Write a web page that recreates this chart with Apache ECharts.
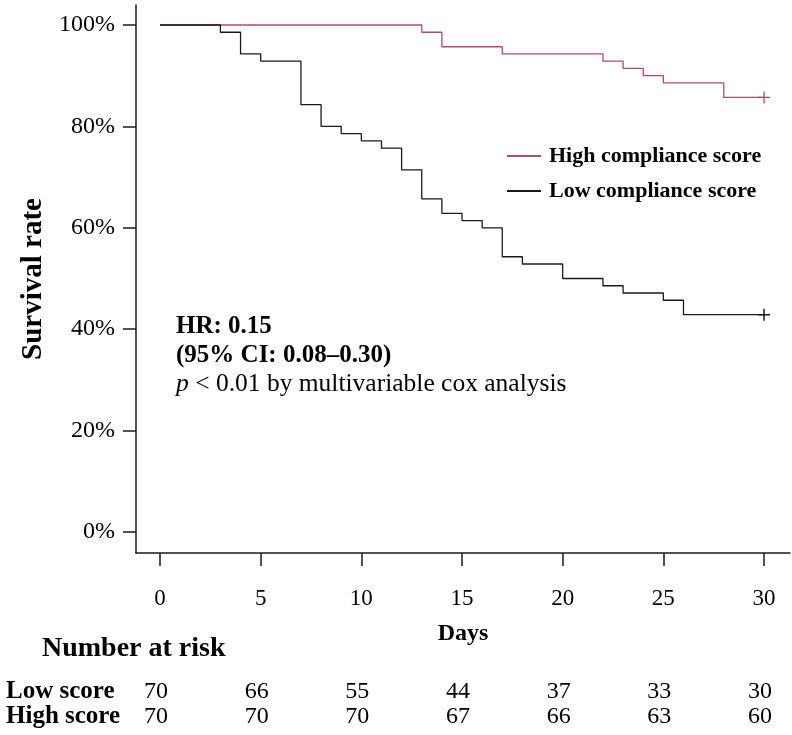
<!DOCTYPE html>
<html>
<head>
<meta charset="utf-8">
<script src="https://cdn.jsdelivr.net/npm/echarts@6/dist/echarts.min.js"></script>
<style>
  html, body { margin: 0; background: #fff; }
  #chart { width: 792px; height: 735px; }
</style>
</head>
<body>
<div id="chart"></div>
<script>
// survival curves (days, survival %)
var highDays = [0, 13, 14, 17, 22, 23, 24, 25, 28, 30];
var highSurv = [100, 98.57, 95.71, 94.29, 92.86, 91.43, 90, 88.57, 85.71, 85.71];
var lowDays = [0, 3, 4, 5, 7, 8, 9, 10, 11, 12, 13, 14, 15, 16, 17, 18, 20, 22, 23, 25, 26, 30];
var lowSurv = [100, 98.57, 94.29, 92.86, 84.29, 80, 78.57, 77.14, 75.71, 71.43, 65.71, 62.86, 61.43, 60,
               54.29, 52.86, 50, 48.57, 47.14, 45.71, 42.86, 42.86];

// axis ticks
var xTicks = [0, 5, 10, 15, 20, 25, 30];
var yTicks = [0, 20, 40, 60, 80, 100];

// number at risk
var riskRows = ['Low score', 'High score'];
var riskLow = [70, 66, 55, 44, 37, 33, 30];
var riskHigh = [70, 70, 70, 67, 66, 63, 60];

var serif = 'Liberation Serif';
var pink = '#b54a6c';
var black = '#1a1a1a';

function zip(xs, ys) {
  return xs.map(function (x, i) { return [x, ys[i]]; });
}

var riskData = [];
xTicks.forEach(function (t, i) {
  riskData.push([t, riskRows[0], riskLow[i]]);
  riskData.push([t, riskRows[1], riskHigh[i]]);
});

var plus = 'path://M6,0L6,12M0,6L12,6';

var chart = echarts.init(document.getElementById('chart'));

chart.setOption({
  animation: false,
  title: {
    text: 'Number at risk',
    left: 42, top: 635, padding: 0,
    textStyle: { fontFamily: serif, fontWeight: 'bold', fontSize: 28, color: '#000' }
  },
  legend: {
    data: ['High compliance score', 'Low compliance score'],
    orient: 'vertical',
    left: 502, top: 140,
    icon: 'rect',
    itemWidth: 34, itemHeight: 2,
    itemGap: 13,
    textStyle: { fontFamily: serif, fontWeight: 'bold', fontSize: 22, color: '#000', padding: [0, 0, 0, 3] }
  },
  graphic: [{
    type: 'text',
    left: 176, top: 314,
    style: {
      text: '{b|HR: 0.15}\n{b|(95% CI: 0.08–0.30)}\n{i|p}{r| < 0.01 by multivariable cox analysis}',
      rich: {
        b: { fontFamily: serif, fontWeight: 'bold', fontSize: 25, lineHeight: 29, fill: '#000' },
        i: { fontFamily: serif, fontStyle: 'italic', fontSize: 25.5, lineHeight: 29, fill: '#000' },
        r: { fontFamily: serif, fontSize: 25.5, lineHeight: 29, fill: '#000' }
      }
    }
  }],
  grid: [
    { left: 136, right: 2, top: 5, bottom: 182 },
    { left: 136, right: 2, top: 679, height: 50 }
  ],
  xAxis: [{
    gridIndex: 0,
    type: 'value',
    min: -1.192, max: 31.29,
    name: 'Days',
    nameLocation: 'middle',
    nameGap: 69,
    nameTextStyle: { fontFamily: serif, fontWeight: 'bold', fontSize: 24, color: '#000' },
    axisLine: { show: true, onZero: false, lineStyle: { color: black, width: 1.5 } },
    axisTick: { show: true, length: 13, customValues: xTicks, lineStyle: { color: black, width: 1.5 } },
    axisLabel: { customValues: xTicks, margin: 34, fontFamily: serif, fontSize: 23, color: '#000' },
    splitLine: { show: false }
  }, {
    gridIndex: 1,
    type: 'value',
    min: -1.192, max: 31.29,
    show: false
  }],
  yAxis: [{
    gridIndex: 0,
    type: 'value',
    min: -4.14, max: 103.94,
    name: 'Survival rate',
    nameLocation: 'middle',
    nameGap: 78,
    nameTextStyle: { fontFamily: serif, fontWeight: 'bold', fontSize: 29, color: '#000' },
    axisLine: { show: true, onZero: false, lineStyle: { color: black, width: 1.5 } },
    axisTick: { show: true, length: 13, customValues: yTicks, lineStyle: { color: black, width: 1.5 } },
    axisLabel: {
      customValues: yTicks, margin: 21, fontFamily: serif, fontSize: 24, color: '#000',
      formatter: function (v) { return v + '%'; }
    },
    splitLine: { show: false }
  }, {
    gridIndex: 1,
    type: 'category',
    data: riskRows,
    inverse: true,
    axisLine: { show: false },
    axisTick: { show: false },
    axisLabel: {
      interval: 0,
      align: 'left', margin: 130,
      fontFamily: serif, fontWeight: 'bold', fontSize: 25, color: '#000'
    }
  }],
  series: [{
    name: 'High compliance score',
    type: 'line',
    step: 'end',
    showSymbol: false,
    color: pink,
    lineStyle: { width: 1.3, color: pink },
    data: zip(highDays, highSurv)
  }, {
    name: 'Low compliance score',
    type: 'line',
    step: 'end',
    showSymbol: false,
    color: black,
    lineStyle: { width: 1.3, color: black },
    data: zip(lowDays, lowSurv)
  }, {
    name: 'censor',
    type: 'scatter',
    symbol: plus,
    symbolSize: 12,
    itemStyle: { opacity: 1 },
    data: [
      { value: [highDays[highDays.length - 1], highSurv[highSurv.length - 1]],
        itemStyle: { color: pink, borderColor: pink, borderWidth: 1.3 } },
      { value: [lowDays[lowDays.length - 1], lowSurv[lowSurv.length - 1]],
        itemStyle: { color: black, borderColor: black, borderWidth: 1.5 } }
    ]
  }, {
    name: 'risk',
    type: 'scatter',
    xAxisIndex: 1,
    yAxisIndex: 1,
    symbolSize: 0,
    itemStyle: { opacity: 1 },
    label: {
      show: true,
      position: 'inside',
      offset: [-4, 0],
      fontFamily: serif, fontSize: 24, color: '#000',
      textBorderWidth: 0,
      formatter: function (p) { return p.value[2]; }
    },
    data: riskData
  }]
});
</script>
</body>
</html>
